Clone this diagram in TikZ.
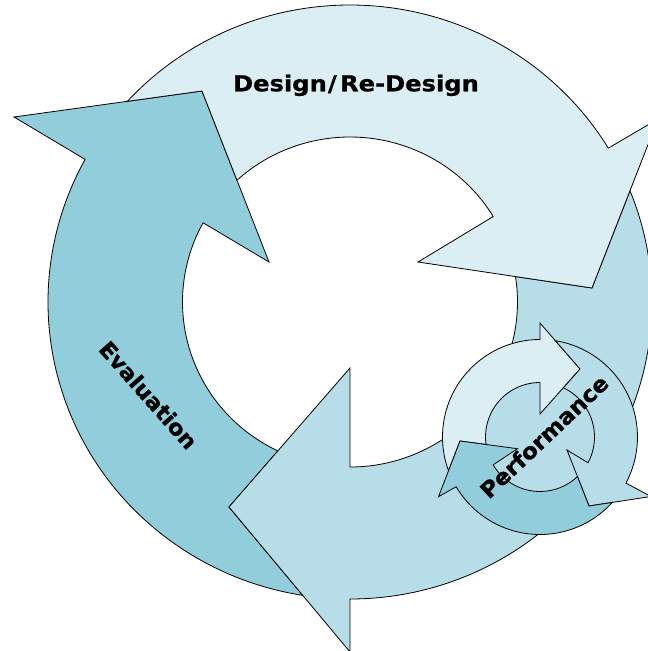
\documentclass[tikz,border=0pt]{standalone}
\usepackage{fontspec}
\setmainfont{DejaVu Sans}
\newfontfamily\lblfont{DejaVu Sans}[BoldFeatures={FakeBold=0.8}]
\definecolor{cLight}{HTML}{DAEEF3}
\definecolor{cMid}{HTML}{B7DDE8}
\definecolor{cDark}{HTML}{92CDDC}
\tikzset{
  arrowshape/.style={draw=black, line width=0.8pt, line join=miter},
  lbl/.style={font=\lblfont\bfseries\fontsize{22}{26}\selectfont, inner sep=0pt}
}
\begin{document}
\begin{tikzpicture}[x=1pt,y=1pt]
\clip (-350,302) rectangle (298,-349);
% Evaluation (big, dark)
\path[arrowshape, fill=cDark] (261:302 and 297)
  arc[start angle=261, end angle=151.3, x radius=302, y radius=297]
  -- (-336,185) -- (-148,211) -- (-81,40) -- (151.3:167.5 and 165)
  arc[start angle=151.3, end angle=244.5, x radius=167.5, y radius=165]
  -- (-121,-205) -- cycle;
% Performance (big, medium)
\path[arrowshape, fill=cMid] (22:302 and 297)
  arc[start angle=22, end angle=-90, x radius=302, y radius=297]
  -- (0,-350) -- (-121,-205) -- (0,-66) -- (-90:167.5 and 165)
  arc[start angle=-90, end angle=8.87, x radius=167.5, y radius=165]
  -- (242,14) -- cycle;
% Design (big, light)
\path[arrowshape, fill=cLight] (137.5:302 and 297)
  arc[start angle=137.5, end angle=31.2, x radius=302, y radius=297]
  -- (308,183) -- (242,14) -- (68,40) -- (31.2:167.5 and 165)
  arc[start angle=31.2, end angle=132.45, x radius=167.5, y radius=165]
  -- (-148,211) -- cycle;
% small cycle
\begin{scope}[shift={(190,-135)}]
\path[arrowshape, fill=cLight] (200.2:97.5) arc[start angle=200.2, end angle=90, radius=97.5]
  -- (0,114) -- (40,68) -- (0,23) -- (90:54.5)
  arc[start angle=90, end angle=187.9, radius=54.5] -- (-80,-4) -- cycle;
\path[arrowshape, fill=cMid] (80.9:97.5) arc[start angle=80.9, end angle=-28.2, radius=97.5]
  -- (111,-59.5) -- (49,-69) -- (27,-13) -- (-28.2:54.5)
  arc[start angle=-28.2, end angle=64.6, radius=54.5] -- (40,68) -- cycle;
\path[arrowshape, fill=cDark] (-42.15:97.5) arc[start angle=-42.15, end angle=-149.3, radius=97.5]
  -- (-101.5,-59.7) -- (-80,-4) -- (-22.5,-11.7) -- (-149.3:54.5)
  arc[start angle=-149.3, end angle=-46.6, radius=54.5] -- (49,-69) -- cycle;
\end{scope}
% labels
\node[lbl, anchor=base] (design) at (6,210.7) {\scalebox{1.1}[1]{Design\kern1pt/\kern3pt Re-Design}};
\node[lbl, rotate=-48.5] (evaluation) at (-201.5,-93) {\scalebox{1.03}[1]{Evaluation}};
\node[lbl, rotate=43.5] (performance) at (194,-134.5) {\scalebox{1.05}[1]{Performance}};
\end{tikzpicture}
\end{document}
